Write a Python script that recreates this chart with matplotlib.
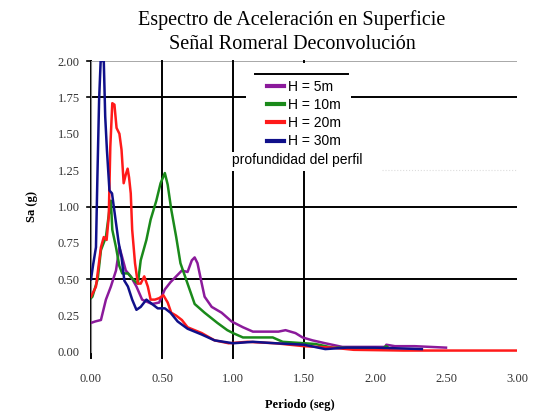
import matplotlib
matplotlib.use("Agg")
import matplotlib.pyplot as plt
from matplotlib.patches import Rectangle
from matplotlib.lines import Line2D

# ---- data ----
labels = ["H = 5m", "H = 10m", "H = 20m", "H = 30m"]
colors = ["#8B1A9B", "#1A8A1A", "#FF1A1A", "#10108A"]

t_5 = [0, 0.03, 0.07, 0.105, 0.14, 0.176, 0.2, 0.22, 0.245, 0.28, 0.32, 0.36, 0.43, 0.48, 0.52,
       0.56, 0.6, 0.64, 0.68, 0.71, 0.73, 0.75, 0.78, 0.8, 0.85, 0.92, 0.99, 1.07, 1.14, 1.32,
       1.37, 1.44, 1.49, 1.56, 1.65, 1.77, 2.07, 2.08, 2.14, 2.28, 2.5]
sa_5 = [0.20, 0.21, 0.22, 0.36, 0.45, 0.56, 0.72, 0.65, 0.56, 0.52, 0.45, 0.36, 0.33, 0.34, 0.43,
        0.48, 0.52, 0.56, 0.55, 0.63, 0.65, 0.61, 0.47, 0.38, 0.31, 0.27, 0.21, 0.17, 0.14, 0.14,
        0.15, 0.13, 0.10, 0.08, 0.06, 0.035, 0.035, 0.05, 0.04, 0.04, 0.03]

t_10 = [0, 0.01, 0.047, 0.07, 0.105, 0.13, 0.14, 0.15, 0.176, 0.2, 0.22, 0.26, 0.305, 0.33, 0.35,
        0.39, 0.42, 0.46, 0.49, 0.52, 0.54, 0.565, 0.6, 0.63, 0.68, 0.73, 0.8, 0.89, 0.96, 1.0,
        1.07, 1.28, 1.35, 1.58, 1.7, 2.05, 2.08, 2.1]
sa_10 = [0.37, 0.38, 0.50, 0.70, 0.79, 0.98, 1.04, 0.84, 0.72, 0.59, 0.54, 0.54, 0.49, 0.47, 0.63,
         0.77, 0.91, 1.04, 1.16, 1.23, 1.15, 0.98, 0.79, 0.61, 0.47, 0.33, 0.27, 0.20, 0.15, 0.13,
         0.10, 0.10, 0.07, 0.055, 0.03, 0.025, 0.04, 0.025]

t_20 = [0, 0.035, 0.07, 0.09, 0.11, 0.125, 0.136, 0.15, 0.165, 0.18, 0.2, 0.215, 0.23, 0.245,
        0.258, 0.268, 0.28, 0.29, 0.31, 0.33, 0.35, 0.375, 0.40, 0.42, 0.45, 0.48, 0.51, 0.54,
        0.565, 0.6, 0.64, 0.68, 0.73, 0.78, 0.87, 0.97, 1.1, 1.3, 1.5, 1.7, 1.85, 2.2, 2.6, 3.0]
sa_20 = [0.38, 0.45, 0.72, 0.79, 0.77, 0.93, 1.41, 1.71, 1.70, 1.54, 1.50, 1.39, 1.16, 1.22,
         1.26, 1.20, 1.09, 0.84, 0.61, 0.47, 0.47, 0.52, 0.45, 0.36, 0.36, 0.37, 0.39, 0.34,
         0.27, 0.25, 0.22, 0.17, 0.15, 0.13, 0.08, 0.06, 0.07, 0.06, 0.04, 0.03, 0.015, 0.01,
         0.01, 0.01]

t_30 = [0, 0.015, 0.035, 0.045, 0.057, 0.068, 0.09, 0.1, 0.112, 0.13, 0.148, 0.17, 0.195, 0.215,
        0.235, 0.26, 0.29, 0.32, 0.35, 0.39, 0.43, 0.47, 0.52, 0.56, 0.61, 0.68, 0.78, 0.87, 1.0,
        1.14, 1.3, 1.5, 1.65, 1.8, 2.0, 2.33]
sa_30 = [0.50, 0.60, 0.72, 1.20, 1.73, 2.0, 2.0, 1.62, 1.39, 1.11, 1.09, 0.93, 0.75, 0.65,
         0.49, 0.45, 0.36, 0.29, 0.31, 0.36, 0.33, 0.30, 0.30, 0.27, 0.21, 0.16, 0.12, 0.08, 0.06,
         0.07, 0.06, 0.05, 0.02, 0.03, 0.03, 0.02]

x_ticks = [0.0, 0.5, 1.0, 1.5, 2.0, 2.5, 3.0]
y_ticks = [0.0, 0.25, 0.5, 0.75, 1.0, 1.25, 1.5, 1.75, 2.0]

title = "Espectro de Aceleración en Superficie\nSeñal Romeral Deconvolución"
xlabel = "Periodo (seg)"
ylabel = "Sa (g)"
note = "profundidad del perfil"

# ---- figure ----
W, H = 542, 413
fig = plt.figure(figsize=(W / 100, H / 100), dpi=100)
ax = fig.add_axes([91 / W, 1 - 352 / H, (517 - 91) / W, (352 - 61) / H])
ax.set_xlim(0, 3)
ax.set_ylim(0, 2)

serif = "Liberation Serif"
sans = "Liberation Sans"

# grid lines
for yv in [0.5, 1.0, 1.75]:
    ax.axhline(yv, color="black", lw=1.4, zorder=1)
ax.axhline(2.0, color="#999999", lw=1.2, zorder=1)
ax.plot([2.05, 3.0], [1.25, 1.25], color="#dddddd", lw=0.8, ls=":", zorder=1)
for xv in [0.0, 0.5, 1.0, 1.5]:
    ax.axvline(xv, ymin=-0.02, ymax=1, color="black", lw=1.4, zorder=1, clip_on=False)
for yv in [0.5, 1.0, 1.75, 2.0]:
    ax.plot([-0.03, 0], [yv, yv], color="black", lw=1.2, clip_on=False, zorder=1)

# white boxes (legend area and note)
ax.add_patch(Rectangle((1.09, 1.37), 0.74, 0.615, facecolor="white", edgecolor="none", zorder=2))
ax.add_patch(Rectangle((0.97, 1.245), 1.08, 0.13, facecolor="white", edgecolor="none", zorder=2))

series = [(t_5, sa_5), (t_10, sa_10), (t_20, sa_20), (t_30, sa_30)]
for (t, s), c, lab in zip(series, colors, labels):
    ax.plot(t, s, color=c, lw=1.8, label=lab, zorder=3)

for sp in ["top", "right", "bottom"]:
    ax.spines[sp].set_visible(False)
ax.spines["left"].set_color("#888888")
ax.spines["left"].set_linewidth(0.8)

ax.set_xticks(x_ticks)
ax.set_xticklabels([f"{v:.2f}" for v in x_ticks], fontfamily=serif, fontsize=9, color="#333333")
ax.set_yticks(y_ticks)
ax.set_yticklabels([f"{v:.2f}" for v in y_ticks], fontfamily=serif, fontsize=9, color="#333333")
ax.tick_params(axis="x", length=0, pad=15)
ax.tick_params(axis="y", length=0, pad=8)

fig.text(32 / W, 1 - 207 / H, ylabel, rotation=90, ha="center", va="center",
         fontfamily=serif, fontsize=9, fontweight="bold")
fig.text(300 / W, 1 - 405 / H, xlabel, ha="center", va="center",
         fontfamily=serif, fontsize=9, fontweight="bold")
fig.text(292 / W, 1 - 32 / H, title, ha="center", va="center", fontfamily=serif,
         fontsize=14.5, linespacing=1.3)

leg = ax.legend(loc="upper left", bbox_to_anchor=(260 / W, 1 - 73 / H),
                bbox_transform=fig.transFigure, frameon=False,
                prop={"family": sans, "size": 10}, handlelength=1.2,
                handletextpad=0.3, labelspacing=0.3, borderpad=0)
for h in leg.get_lines():
    h.set_linewidth(3)
fig.add_artist(Line2D([255 / W, 348 / W], [1 - 74 / H, 1 - 74 / H], color="black", lw=1.4))
fig.text(232 / W, 1 - 160 / H, note, ha="left", va="center", fontfamily=sans, fontsize=10)

fig.savefig("out.png", dpi=100)
